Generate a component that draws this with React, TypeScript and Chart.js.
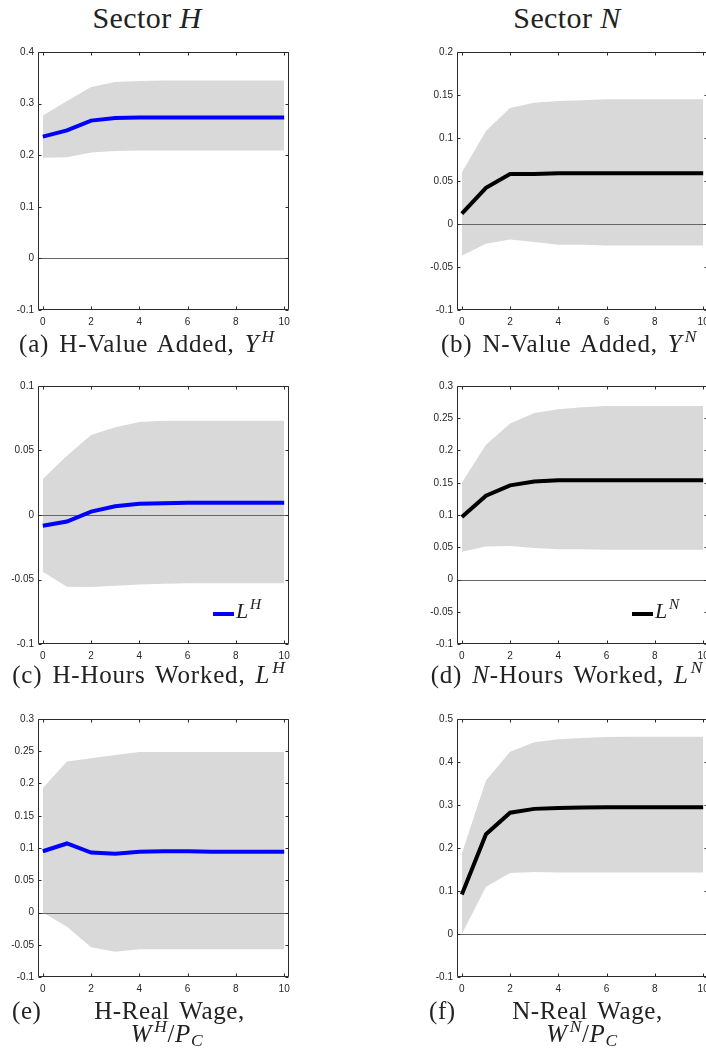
import React, { useEffect, useRef } from "react";
import { Chart, registerables } from "chart.js";
Chart.register(...registerables);

// ---------- data ----------
const periods = [0, 1, 2, 3, 4, 5, 6, 7, 8, 9, 10];
const xTickValues = [0, 2, 4, 6, 8, 10];

// (a) H-Value Added
const yhMean = [0.236, 0.248, 0.267, 0.272, 0.273, 0.273, 0.273, 0.273, 0.273, 0.273, 0.273];
const yhUpper = [0.277, 0.305, 0.332, 0.342, 0.344, 0.345, 0.345, 0.345, 0.345, 0.345, 0.345];
const yhLower = [0.195, 0.196, 0.205, 0.208, 0.209, 0.209, 0.209, 0.209, 0.209, 0.209, 0.209];
const yhTicks = [-0.1, 0, 0.1, 0.2, 0.3, 0.4];

// (b) N-Value Added
const ynMean = [0.012, 0.042, 0.058, 0.058, 0.059, 0.059, 0.059, 0.059, 0.059, 0.059, 0.059];
const ynUpper = [0.06, 0.108, 0.135, 0.141, 0.143, 0.144, 0.145, 0.145, 0.145, 0.145, 0.145];
const ynLower = [-0.037, -0.023, -0.018, -0.021, -0.024, -0.024, -0.025, -0.025, -0.025, -0.025, -0.025];
const ynTicks = [-0.1, -0.05, 0, 0.05, 0.1, 0.15, 0.2];

// (c) H-Hours Worked
const lhMean = [-0.0084, -0.0051, 0.0026, 0.0068, 0.0087, 0.0092, 0.0095, 0.0095, 0.0095, 0.0095, 0.0095];
const lhUpper = [0.028, 0.046, 0.062, 0.068, 0.072, 0.073, 0.073, 0.073, 0.073, 0.073, 0.073];
const lhLower = [-0.044, -0.0556, -0.0558, -0.0549, -0.0538, -0.0533, -0.053, -0.053, -0.053, -0.053, -0.053];
const lhTicks = [-0.1, -0.05, 0, 0.05, 0.1];

// (d) N-Hours Worked
const lnMean = [0.097, 0.13, 0.146, 0.152, 0.154, 0.154, 0.154, 0.154, 0.154, 0.154, 0.154];
const lnUpper = [0.15, 0.209, 0.242, 0.258, 0.264, 0.267, 0.269, 0.269, 0.269, 0.269, 0.269];
const lnLower = [0.043, 0.051, 0.052, 0.049, 0.047, 0.047, 0.046, 0.046, 0.046, 0.046, 0.046];
const lnTicks = [-0.1, -0.05, 0, 0.05, 0.1, 0.15, 0.2, 0.25, 0.3];

// (e) H-Real Wage
const whMean = [0.095, 0.107, 0.093, 0.091, 0.094, 0.095, 0.095, 0.094, 0.094, 0.094, 0.094];
const whUpper = [0.193, 0.234, 0.239, 0.244, 0.249, 0.249, 0.249, 0.249, 0.249, 0.249, 0.249];
const whLower = [0.0, -0.022, -0.054, -0.061, -0.057, -0.057, -0.057, -0.057, -0.057, -0.057, -0.057];
const whTicks = [-0.1, -0.05, 0, 0.05, 0.1, 0.15, 0.2, 0.25, 0.3];

// (f) N-Real Wage
const wnMean = [0.092, 0.232, 0.282, 0.291, 0.293, 0.294, 0.295, 0.295, 0.295, 0.295, 0.295];
const wnUpper = [0.187, 0.357, 0.424, 0.446, 0.453, 0.456, 0.458, 0.459, 0.459, 0.459, 0.459];
const wnLower = [0.0, 0.11, 0.142, 0.144, 0.143, 0.143, 0.143, 0.143, 0.143, 0.143, 0.143];
const wnTicks = [-0.1, 0, 0.1, 0.2, 0.3, 0.4, 0.5];

const BLUE = "#0000ff";
const BLACK = "#000000";
const BAND = "#d9d9d9";
const SERIF = "'Liberation Serif', 'Times New Roman', serif";
const SANS = "'Liberation Sans', Arial, Helvetica, sans-serif";

const PLOT_H = 258;
const PAD_TOP = 12;
const X_AXIS_H = 24;
const Y_AXIS_W = 38;
const CANVAS_W = 300;
const CANVAS_H = PAD_TOP + PLOT_H + X_AXIS_H;

const fmt = (v: number) => String(+v.toFixed(3));

const framePlugin = {
  id: "matlabFrame",
  beforeDatasetDraw(chart: any, args: any) {
    if (args.index !== 0) return;
    const { ctx, chartArea, scales } = chart;
    const yy = Math.round(scales.y.getPixelForValue(0)) + 0.5;
    ctx.save();
    ctx.strokeStyle = "#666666";
    ctx.lineWidth = 1;
    ctx.beginPath();
    ctx.moveTo(chartArea.left, yy);
    ctx.lineTo(chartArea.right, yy);
    ctx.stroke();
    ctx.restore();
  },
  afterDraw(chart: any) {
    const { ctx, chartArea, scales } = chart;
    const L = Math.round(chartArea.left) + 0.5;
    const R = Math.round(chartArea.right) - 0.5;
    const T = Math.round(chartArea.top) + 0.5;
    const B = Math.round(chartArea.bottom) - 0.5;
    ctx.save();
    ctx.strokeStyle = "#2b2b2b";
    ctx.lineWidth = 1;
    ctx.beginPath();
    ctx.rect(L, T, R - L, B - T);
    const tl = 3;
    scales.x.ticks.forEach((t: any) => {
      const px = Math.round(scales.x.getPixelForValue(t.value)) + 0.5;
      ctx.moveTo(px, B);
      ctx.lineTo(px, B - tl);
      ctx.moveTo(px, T);
      ctx.lineTo(px, T + tl);
    });
    scales.y.ticks.forEach((t: any) => {
      const py = Math.round(scales.y.getPixelForValue(t.value)) + 0.5;
      ctx.moveTo(L, py);
      ctx.lineTo(L + tl, py);
      ctx.moveTo(R, py);
      ctx.lineTo(R - tl, py);
    });
    ctx.stroke();
    ctx.restore();
  },
};

type PanelProps = {
  left: number;
  plotTop: number;
  color: string;
  mean: number[];
  upper: number[];
  lower: number[];
  yTicks: number[];
};

function Panel({ left, plotTop, color, mean, upper, lower, yTicks }: PanelProps) {
  const ref = useRef<HTMLCanvasElement | null>(null);
  useEffect(() => {
    if (!ref.current) return;
    const pts = (arr: number[]) => periods.map((x, i) => ({ x, y: arr[i] }));
    const chart = new Chart(ref.current, {
      type: "line",
      data: {
        datasets: [
          {
            data: pts(mean),
            borderColor: color,
            borderWidth: 4,
            pointRadius: 0,
            tension: 0,
            fill: false,
          },
          {
            data: pts(upper),
            borderWidth: 0,
            borderColor: "rgba(0,0,0,0)",
            pointRadius: 0,
            tension: 0,
            fill: false,
          },
          {
            data: pts(lower),
            borderWidth: 0,
            borderColor: "rgba(0,0,0,0)",
            backgroundColor: BAND,
            pointRadius: 0,
            tension: 0,
            fill: "-1",
          },
        ],
      } as any,
      options: {
        animation: false,
        responsive: false,
        devicePixelRatio: 1,
        events: [],
        layout: { padding: { top: PAD_TOP, right: CANVAS_W - 289, left: 0, bottom: 0 } },
        plugins: { legend: { display: false }, tooltip: { enabled: false } },
        scales: {
          x: {
            type: "linear",
            min: -0.2,
            max: 10.2,
            grid: { display: false, drawTicks: false },
            border: { display: false },
            ticks: {
              autoSkip: false,
              maxRotation: 0,
              padding: 6,
              color: "#262626",
              font: { family: SANS, size: 10 },
              callback: (v: any) => fmt(Number(v)),
            },
            afterBuildTicks: (s: any) => {
              s.ticks = xTickValues.map((v) => ({ value: v }));
            },
            afterFit: (s: any) => {
              s.height = X_AXIS_H;
            },
          },
          y: {
            type: "linear",
            min: yTicks[0],
            max: yTicks[yTicks.length - 1],
            grid: { display: false, drawTicks: false },
            border: { display: false },
            ticks: {
              autoSkip: false,
              padding: 4,
              color: "#262626",
              font: { family: SANS, size: 10 },
              callback: (v: any) => fmt(Number(v)),
            },
            afterBuildTicks: (s: any) => {
              s.ticks = yTicks.map((v) => ({ value: v }));
            },
            afterFit: (s: any) => {
              s.width = Y_AXIS_W;
            },
          },
        },
      } as any,
      plugins: [framePlugin],
    });
    return () => chart.destroy();
  }, []);
  return (
    <canvas
      ref={ref}
      width={CANVAS_W}
      height={CANVAS_H}
      style={{
        position: "absolute",
        left,
        top: plotTop - PAD_TOP,
        width: CANVAS_W,
        height: CANVAS_H,
      }}
    />
  );
}

const Sup = ({ children }: { children: React.ReactNode }) => (
  <span style={{ fontSize: "0.7em", position: "relative", top: "-0.55em", fontStyle: "italic", marginLeft: "0.12em" }}>
    {children}
  </span>
);
const Sub = ({ children }: { children: React.ReactNode }) => (
  <span style={{ fontSize: "0.7em", position: "relative", top: "0.25em", fontStyle: "italic" }}>
    {children}
  </span>
);

function Text({
  center,
  left,
  baseline,
  size,
  children,
  spacing = 0,
  wordSpacing = 0,
}: {
  center?: number;
  left?: number;
  baseline: number;
  size: number;
  children: React.ReactNode;
  spacing?: number;
  wordSpacing?: number;
}) {
  const top = baseline - 0.8375 * size;
  const style: React.CSSProperties = {
    position: "absolute",
    top,
    fontFamily: SERIF,
    fontSize: size,
    lineHeight: `${size}px`,
    whiteSpace: "nowrap",
    color: "#222",
    letterSpacing: spacing,
    wordSpacing,
  };
  if (center !== undefined) {
    style.left = center - 200;
    style.width = 400;
    style.textAlign = "center";
  } else {
    style.left = left;
  }
  return <div style={style}>{children}</div>;
}

const COL_L = 0;
const COL_R = 419;
const ROW1 = 52;
const ROW2 = 386;
const ROW3 = 719;
const CAP = 25;

export default function App() {
  return (
    <div
      style={{
        position: "absolute",
        left: 0,
        top: 0,
        width: 706,
        height: 1055,
        overflow: "hidden",
        background: "#fff",
      }}
    >
      <Text center={147} baseline={28} size={30} spacing={0.4}>
        Sector <i>H</i>
      </Text>
      <Text center={567} baseline={28} size={30} spacing={0.4}>
        Sector <i>N</i>
      </Text>

      <Panel left={COL_L} plotTop={ROW1} color={BLUE} mean={yhMean} upper={yhUpper} lower={yhLower} yTicks={yhTicks} />
      <Panel left={COL_R} plotTop={ROW1} color={BLACK} mean={ynMean} upper={ynUpper} lower={ynLower} yTicks={ynTicks} />
      <Panel left={COL_L} plotTop={ROW2} color={BLUE} mean={lhMean} upper={lhUpper} lower={lhLower} yTicks={lhTicks} />
      <Panel left={COL_R} plotTop={ROW2} color={BLACK} mean={lnMean} upper={lnUpper} lower={lnLower} yTicks={lnTicks} />
      <Panel left={COL_L} plotTop={ROW3} color={BLUE} mean={whMean} upper={whUpper} lower={whLower} yTicks={whTicks} />
      <Panel left={COL_R} plotTop={ROW3} color={BLACK} mean={wnMean} upper={wnUpper} lower={wnLower} yTicks={wnTicks} />

      <Text center={147} baseline={352} size={CAP} spacing={0.8} wordSpacing={3}>
        (a) H-Value Added, <i>Y</i>
        <Sup>H</Sup>
      </Text>
      <Text center={569} baseline={352} size={CAP} spacing={0.8} wordSpacing={3}>
        (b) N-Value Added, <i>Y</i>
        <Sup>N</Sup>
      </Text>
      <Text center={149} baseline={683} size={CAP} spacing={0.8} wordSpacing={3}>
        (c) H-Hours Worked, <i>L</i>
        <Sup>H</Sup>
      </Text>
      <Text center={567} baseline={683} size={CAP} spacing={0.8} wordSpacing={3}>
        (d) <i>N</i>-Hours Worked, <i>L</i>
        <Sup>N</Sup>
      </Text>

      <Text left={12} baseline={1019} size={CAP} spacing={0.6}>
        (e)
      </Text>
      <Text center={169.5} baseline={1019} size={CAP} spacing={0.6} wordSpacing={3}>
        H-Real Wage,
      </Text>
      <Text center={167} baseline={1042} size={CAP} spacing={0.6}>
        <i>W</i>
        <Sup>H</Sup>/<i>P</i>
        <Sub>C</Sub>
      </Text>

      <Text left={429} baseline={1019} size={CAP} spacing={0.6}>
        (f)
      </Text>
      <Text center={587.5} baseline={1019} size={CAP} spacing={0.6} wordSpacing={3}>
        N-Real Wage,
      </Text>
      <Text center={582} baseline={1042} size={CAP} spacing={0.6}>
        <i>W</i>
        <Sup>N</Sup>/<i>P</i>
        <Sub>C</Sub>
      </Text>

      {/* legends */}
      <div style={{ position: "absolute", left: 213, top: 612, width: 21, height: 4, background: BLUE }} />
      <Text left={236} baseline={618} size={22}>
        <i>L</i>
        <Sup>H</Sup>
      </Text>
      <div style={{ position: "absolute", left: 632, top: 612, width: 21, height: 4, background: BLACK }} />
      <Text left={655} baseline={618} size={22}>
        <i>L</i>
        <Sup>N</Sup>
      </Text>
    </div>
  );
}
